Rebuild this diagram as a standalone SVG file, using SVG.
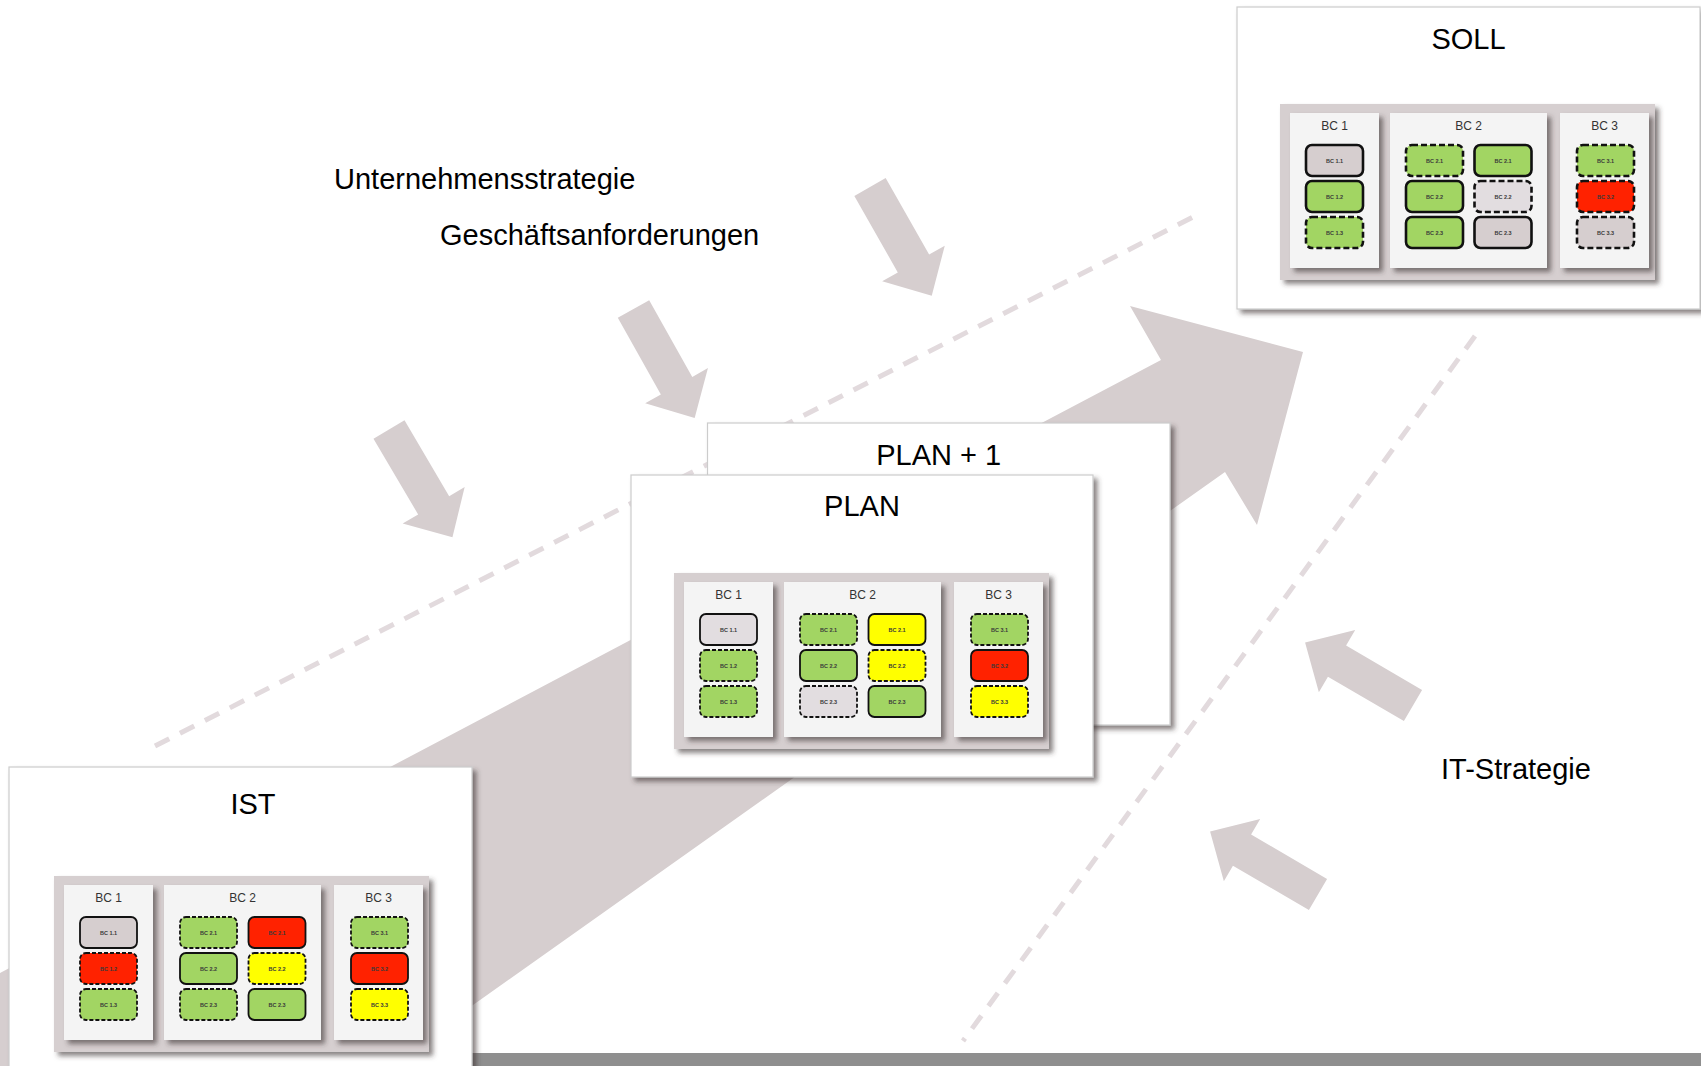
<svg xmlns="http://www.w3.org/2000/svg" xmlns:xlink="http://www.w3.org/1999/xlink" width="1701" height="1066" viewBox="0 0 1701 1066">
  <style>
    .lbl { font-family: "Liberation Sans", Arial, sans-serif; font-size: 29px; fill: #000; }
    .ttl { font-family: "Liberation Sans", Arial, sans-serif; font-size: 29px; fill: #000; text-anchor: middle; }
    .card { fill: #fff; stroke: #cccccc; stroke-width: 1.2; }
    .panel { fill: #d6cfd0; }
    .col { fill: #f4f4f4; }
    .colh { font-family: "Liberation Sans", Arial, sans-serif; font-size: 12px; fill: #333; text-anchor: middle; }
    .bt { font-family: "Liberation Sans", Arial, sans-serif; font-size: 5.5px; font-weight: bold; fill: #3a3a3a; text-anchor: middle; }
    .g { fill: #a2d563; }
    .r { fill: #ff2200; }
    .y { fill: #ffff00; }
    .k { fill: #d6cecf; }
    .l { fill: #e2dde0; }
    .s { stroke: #111; stroke-width: 1.8; }
    .d { stroke: #111; stroke-width: 1.8; stroke-dasharray: 4 2; }
    .thick .s { stroke-width: 2.6; }
    .thick .d { stroke-width: 2.6; stroke-dasharray: 6 3; }
    .flow { fill: #d6cecf; }
    .guide { fill: none; stroke: #e2dadd; stroke-width: 5; stroke-dasharray: 16 12; }
  </style>
  <defs>
    <filter id="shadow" x="-10%" y="-10%" width="125%" height="125%">
      <feDropShadow dx="4" dy="4" stdDeviation="2.5" flood-color="#3c3536" flood-opacity="0.6"/>
    </filter>
    <!-- one small input arrow, pointing along +x, back edge at the origin -->
    <path id="smallArrow" d="M0,-18 L88,-18 L88,-36 L125,0 L88,36 L88,18 L0,18 Z"/>
    <!-- capability frame: grey panel with three columns -->
    <g id="bcFrame">
      <rect class="panel" x="0" y="0" width="375" height="176" filter="url(#shadow)"/>
      <rect class="col" x="10" y="9" width="89" height="155" filter="url(#shadow)"/>
      <rect class="col" x="110" y="9" width="157" height="155" filter="url(#shadow)"/>
      <rect class="col" x="280" y="9" width="89" height="155" filter="url(#shadow)"/>
      <text class="colh" x="54.5" y="26">BC 1</text>
      <text class="colh" x="188.5" y="26">BC 2</text>
      <text class="colh" x="324.5" y="26">BC 3</text>
    </g>
  </defs>

  <rect x="0" y="0" width="1701" height="1066" fill="#fff"/>
  <!-- bottom bar -->
  <rect x="0" y="1053" width="1701" height="13" fill="#8f8f8f"/>

  <g id="connectors">
    <!-- main progression arrow -->
    <polygon class="flow" points="0,973 1161,360 1130,306 1303,352 1257,525 1225,472 387,1066 0,1066"/>
    <!-- guide lines -->
    <line class="guide" x1="155" y1="746" x2="1193" y2="217"/>
    <line class="guide" x1="1475" y1="336" x2="963" y2="1041"/>
    <!-- business inputs -->
    <use xlink:href="#smallArrow" class="flow" transform="translate(870,187) rotate(60.4)"/>
    <use xlink:href="#smallArrow" class="flow" transform="translate(633.5,309) rotate(60.7)"/>
    <use xlink:href="#smallArrow" class="flow" transform="translate(389,429.5) rotate(59.5)"/>
    <!-- IT inputs -->
    <use xlink:href="#smallArrow" class="flow" transform="translate(1413,705.5) rotate(210.3)"/>
    <use xlink:href="#smallArrow" class="flow" transform="translate(1318,894.5) rotate(210.3)"/>
  </g>

  <g id="label-unternehmensstrategie"><text class="lbl" x="334" y="189">Unternehmensstrategie</text></g>
  <g id="label-geschaeftsanforderungen"><text class="lbl" x="440" y="245">Geschäftsanforderungen</text></g>
  <g id="label-it-strategie"><text class="lbl" x="1441" y="779">IT-Strategie</text></g>

  <!-- PLAN + 1 -->
  <g id="node-plan1">
    <rect class="card" x="707.5" y="423" width="462.5" height="302" filter="url(#shadow)"/>
    <text class="ttl" x="938.7" y="465">PLAN + 1</text>
  </g>

  <!-- PLAN -->
  <g id="node-plan">
    <rect class="card" x="631" y="475" width="462" height="302" filter="url(#shadow)"/>
    <text class="ttl" x="862" y="516">PLAN</text>
    <g transform="translate(674,573)">
      <use xlink:href="#bcFrame"/>
      <rect class="l s" x="26" y="41" width="57" height="31" rx="6"/>
      <rect class="g d" x="26" y="77" width="57" height="31" rx="6"/>
      <rect class="g d" x="26" y="113" width="57" height="31" rx="6"/>
      <rect class="g d" x="126" y="41" width="57" height="31" rx="6"/>
      <rect class="g s" x="126" y="77" width="57" height="31" rx="6"/>
      <rect class="l d" x="126" y="113" width="57" height="31" rx="6"/>
      <rect class="y s" x="194.5" y="41" width="57" height="31" rx="6"/>
      <rect class="y d" x="194.5" y="77" width="57" height="31" rx="6"/>
      <rect class="g s" x="194.5" y="113" width="57" height="31" rx="6"/>
      <rect class="g d" x="297" y="41" width="57" height="31" rx="6"/>
      <rect class="r s" x="297" y="77" width="57" height="31" rx="6"/>
      <rect class="y d" x="297" y="113" width="57" height="31" rx="6"/>
      <text class="bt" x="54.5" y="58.5">BC 1.1</text>
      <text class="bt" x="54.5" y="94.5">BC 1.2</text>
      <text class="bt" x="54.5" y="130.5">BC 1.3</text>
      <text class="bt" x="154.5" y="58.5">BC 2.1</text>
      <text class="bt" x="154.5" y="94.5">BC 2.2</text>
      <text class="bt" x="154.5" y="130.5">BC 2.3</text>
      <text class="bt" x="223" y="58.5">BC 2.1</text>
      <text class="bt" x="223" y="94.5">BC 2.2</text>
      <text class="bt" x="223" y="130.5">BC 2.3</text>
      <text class="bt" x="325.5" y="58.5">BC 3.1</text>
      <text class="bt" x="325.5" y="94.5">BC 3.2</text>
      <text class="bt" x="325.5" y="130.5">BC 3.3</text>
    </g>
  </g>

  <!-- SOLL -->
  <g id="node-soll">
    <rect class="card" x="1237" y="7" width="463" height="302" filter="url(#shadow)"/>
    <text class="ttl" x="1468.5" y="49">SOLL</text>
    <g class="thick" transform="translate(1280,104)">
      <use xlink:href="#bcFrame"/>
      <rect class="k s" x="26" y="41" width="57" height="31" rx="6"/>
      <rect class="g s" x="26" y="77" width="57" height="31" rx="6"/>
      <rect class="g d" x="26" y="113" width="57" height="31" rx="6"/>
      <rect class="g d" x="126" y="41" width="57" height="31" rx="6"/>
      <rect class="g s" x="126" y="77" width="57" height="31" rx="6"/>
      <rect class="g s" x="126" y="113" width="57" height="31" rx="6"/>
      <rect class="g s" x="194.5" y="41" width="57" height="31" rx="6"/>
      <rect class="l d" x="194.5" y="77" width="57" height="31" rx="6"/>
      <rect class="k s" x="194.5" y="113" width="57" height="31" rx="6"/>
      <rect class="g d" x="297" y="41" width="57" height="31" rx="6"/>
      <rect class="r d" x="297" y="77" width="57" height="31" rx="6"/>
      <rect class="k d" x="297" y="113" width="57" height="31" rx="6"/>
      <text class="bt" x="54.5" y="58.5">BC 1.1</text>
      <text class="bt" x="54.5" y="94.5">BC 1.2</text>
      <text class="bt" x="54.5" y="130.5">BC 1.3</text>
      <text class="bt" x="154.5" y="58.5">BC 2.1</text>
      <text class="bt" x="154.5" y="94.5">BC 2.2</text>
      <text class="bt" x="154.5" y="130.5">BC 2.3</text>
      <text class="bt" x="223" y="58.5">BC 2.1</text>
      <text class="bt" x="223" y="94.5">BC 2.2</text>
      <text class="bt" x="223" y="130.5">BC 2.3</text>
      <text class="bt" x="325.5" y="58.5">BC 3.1</text>
      <text class="bt" x="325.5" y="94.5">BC 3.2</text>
      <text class="bt" x="325.5" y="130.5">BC 3.3</text>
    </g>
  </g>

  <!-- IST -->
  <g id="node-ist">
    <rect class="card" x="9" y="767" width="463" height="302" filter="url(#shadow)"/>
    <text class="ttl" x="253" y="814">IST</text>
    <g transform="translate(54,876)">
      <use xlink:href="#bcFrame"/>
      <rect class="k s" x="26" y="41" width="57" height="31" rx="6"/>
      <rect class="r d" x="26" y="77" width="57" height="31" rx="6"/>
      <rect class="g d" x="26" y="113" width="57" height="31" rx="6"/>
      <rect class="g d" x="126" y="41" width="57" height="31" rx="6"/>
      <rect class="g s" x="126" y="77" width="57" height="31" rx="6"/>
      <rect class="g d" x="126" y="113" width="57" height="31" rx="6"/>
      <rect class="r s" x="194.5" y="41" width="57" height="31" rx="6"/>
      <rect class="y d" x="194.5" y="77" width="57" height="31" rx="6"/>
      <rect class="g s" x="194.5" y="113" width="57" height="31" rx="6"/>
      <rect class="g d" x="297" y="41" width="57" height="31" rx="6"/>
      <rect class="r s" x="297" y="77" width="57" height="31" rx="6"/>
      <rect class="y d" x="297" y="113" width="57" height="31" rx="6"/>
      <text class="bt" x="54.5" y="58.5">BC 1.1</text>
      <text class="bt" x="54.5" y="94.5">BC 1.2</text>
      <text class="bt" x="54.5" y="130.5">BC 1.3</text>
      <text class="bt" x="154.5" y="58.5">BC 2.1</text>
      <text class="bt" x="154.5" y="94.5">BC 2.2</text>
      <text class="bt" x="154.5" y="130.5">BC 2.3</text>
      <text class="bt" x="223" y="58.5">BC 2.1</text>
      <text class="bt" x="223" y="94.5">BC 2.2</text>
      <text class="bt" x="223" y="130.5">BC 2.3</text>
      <text class="bt" x="325.5" y="58.5">BC 3.1</text>
      <text class="bt" x="325.5" y="94.5">BC 3.2</text>
      <text class="bt" x="325.5" y="130.5">BC 3.3</text>
    </g>
  </g>
</svg>
